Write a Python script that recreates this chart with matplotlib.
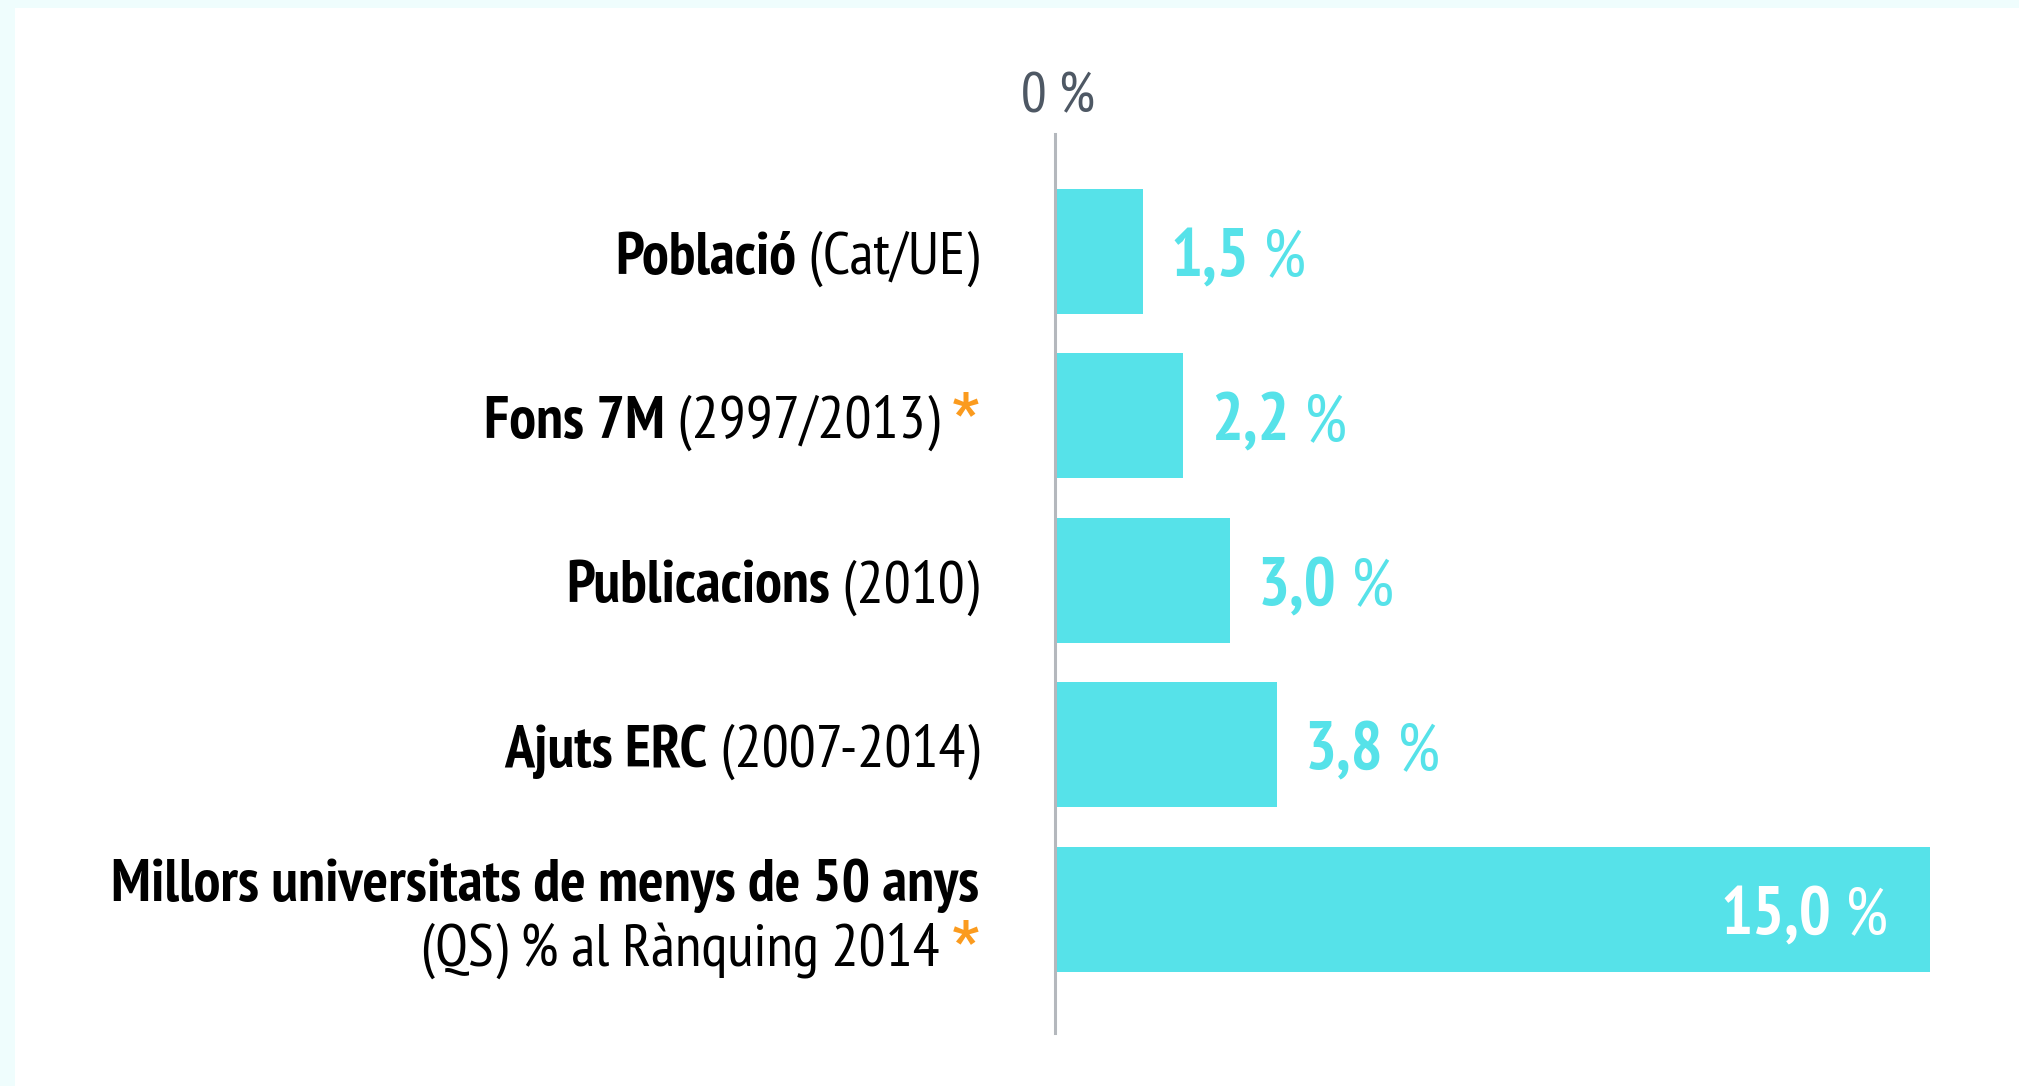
import matplotlib
matplotlib.use('Agg')
import matplotlib.pyplot as plt
from matplotlib.transforms import IdentityTransform
from matplotlib.patches import Rectangle
from matplotlib import font_manager

# ---- data ----
categories_bold = ["Població", "Fons 7M", "Publicacions", "Ajuts ERC",
                   "Millors universitats de menys de 50 anys"]
categories_rest = ["(Cat/UE)", "(2997/2013)", "(2010)", "(2007-2014)",
                   "(QS) % al Rànquing 2014"]
has_asterisk = [False, True, False, False, True]
values = [1.5, 2.2, 3.0, 3.8, 15.0]
value_labels = ["1,5", "2,2", "3,0", "3,8", "15,0"]
axis_label = "0 %"

# ---- style ----
avail = {f.name for f in font_manager.fontManager.ttflist}


def pick(cands):
    for c in cands:
        if c in avail:
            return c
    return 'DejaVu Sans'


FAM = pick(['PT Sans Narrow', 'Roboto Condensed', 'Liberation Sans'])
STARFAM = pick(['Roboto Condensed', 'Roboto', 'DejaVu Sans'])

BAR = '#56e2e9'
ORANGE = '#fb9b1e'
BORDER = '#effdfd'
AXIS = '#b4b8bd'
GRAYTXT = '#4e5864'

W, H = 2019, 1086
fig = plt.figure(figsize=(W / 100, H / 100), dpi=100)
fig.patch.set_facecolor(BORDER)
fig.add_artist(Rectangle((15 / W, 0), 1, 1 - 8 / H, transform=fig.transFigure,
                         facecolor='white', edgecolor='none', zorder=0))

ax = fig.add_axes([1055 / W, 1 - 1033 / H, (1930 - 1055) / W, (1033 - 134) / H])
ax.set_facecolor('none')
ax.set_xlim(0, 15)
ax.set_ylim(4.754, -0.715)
ypos = list(range(len(values)))
ax.barh(ypos, values, height=0.76, color=BAR, zorder=1)
for s in ['top', 'right', 'bottom']:
    ax.spines[s].set_visible(False)
ax.spines['left'].set_color(AXIS)
ax.spines['left'].set_linewidth(2.2)
ax.spines['left'].set_zorder(3)
ax.set_xticks([])
ax.set_yticks([])

fig.canvas.draw()
renderer = fig.canvas.get_renderer()
ID = IdentityTransform()

LAB = 43.2
VAL = 48.3


def parts_right(parts, x_right, y_base, size):
    for part in reversed(parts):
        text, weight, color = part[:3]
        fam = part[3] if len(part) > 3 else FAM
        sz = part[4] if len(part) > 4 else size
        dy = part[5] if len(part) > 5 else 0
        t = fig.text(x_right, y_base + dy, text, transform=ID, ha='right', va='baseline',
                     fontsize=sz, fontweight=weight, color=color, family=fam)
        x_right -= t.get_window_extent(renderer).width


def parts_left(parts, x_left, y_base, size):
    for text, weight, color in parts:
        t = fig.text(x_left, y_base, text, transform=ID, ha='left', va='baseline',
                     fontsize=size, fontweight=weight, color=color, family=FAM)
        x_left += t.get_window_extent(renderer).width


x0 = ax.transData.transform((0, 0))[0]
for i, (b, r, a, v, vl) in enumerate(zip(categories_bold, categories_rest,
                                          has_asterisk, values, value_labels)):
    yc = ax.transData.transform((0, i))[1]
    xr = x0 - 76
    star = [(" *", 'bold', ORANGE, STARFAM, 42, 5)] if a else []
    if len(b) > 25:
        parts_right([(b, 'bold', 'black')], xr, yc + 8, LAB)
        parts_right([(r, 'normal', 'black')] + star, xr, yc - 57, LAB)
    else:
        parts_right([(b, 'bold', 'black'), (" " + r, 'normal', 'black')] + star,
                    xr, yc - 22, LAB)
    xe = ax.transData.transform((v, i))[0]
    if v >= 10:
        parts_right([(vl, 'bold', 'white'), (" %", 'normal', 'white')], xe - 42, yc - 24, VAL)
    else:
        parts_left([(vl, 'bold', BAR), (" %", 'normal', BAR)], xe + 28, yc - 24, VAL)

fig.text(x0 + 3, H - 112, axis_label, transform=ID, ha='center', va='baseline',
         fontsize=41, color=GRAYTXT, family=FAM)

fig.savefig('out.png', dpi=100, facecolor=fig.get_facecolor())
